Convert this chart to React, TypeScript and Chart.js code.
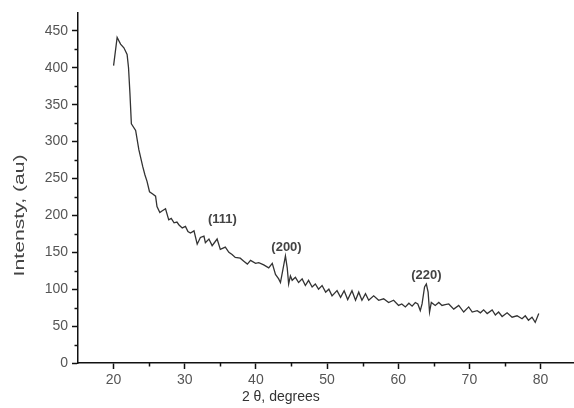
import React, { useEffect, useRef } from 'react';
import { Chart, registerables } from 'chart.js';

Chart.register(...registerables);

const twoTheta = [
  20.0, 20.5, 20.98, 21.45, 21.9, 22.1, 22.3, 22.5, 23.1, 23.55, 24.1, 24.4, 24.7, 25.05, 25.5, 25.9,
  26.1, 26.5, 26.8, 27.3, 27.75, 28.1, 28.5, 28.9, 29.2, 29.65, 30.1, 30.45, 30.8, 31.3, 31.75,
  32.2, 32.7, 32.9, 33.4, 33.85, 34.55, 35.0, 35.7, 36.2, 36.65, 37.1, 37.8, 38.3, 38.8, 39.25,
  39.95, 40.4, 41.1, 41.8, 42.3, 42.75, 43.2, 43.45, 43.8, 44.15, 44.4, 44.6, 44.85, 45.1, 45.55,
  46.0, 46.5, 46.95, 47.4, 47.9, 48.35, 48.8, 49.3, 49.8, 50.25, 50.7, 51.4, 51.9, 52.4, 52.9,
  53.5, 54.0, 54.45, 54.9, 55.4, 55.85, 56.55, 57.25, 57.95, 58.65, 59.35, 60.05, 60.5, 61.0,
  61.5, 61.95, 62.4, 62.75, 63.1, 63.35, 63.7, 63.95, 64.2, 64.4, 64.65, 65.2, 65.7, 66.15, 66.6,
  67.1, 67.8, 68.5, 69.2, 69.9, 70.4, 71.1, 71.55, 72.0, 72.5, 73.2, 73.65, 74.1, 74.6, 75.3,
  76.0, 76.7, 77.4, 77.85, 78.3, 78.8, 79.25, 79.75
];

const intensity = [
  403, 441, 432, 427, 418, 400, 365, 324, 315, 289, 266, 255, 246, 232, 229, 226,
  212, 204, 206, 209, 194, 196, 190, 191, 187, 183, 185, 178, 176, 179, 161,
  170, 172, 163, 168, 159, 168, 154, 157, 150, 147, 143, 142, 138, 134, 139,
  135, 136, 133, 129, 135, 120, 114, 109, 127, 145, 129, 107, 118, 112, 116,
  109, 114, 105, 112, 103, 107, 100, 105, 96, 100, 91, 98, 89, 98, 86,
  98, 85, 96, 85, 94, 85, 91, 85, 87, 82, 85, 78, 80, 76,
  81, 77, 82, 80, 71, 80, 103, 107, 96, 69, 82, 78, 82, 78, 79,
  80, 73, 78, 69, 76, 69, 71, 68, 72, 67, 72, 65, 69, 63, 68,
  62, 64, 60, 64, 58, 62, 55, 67
];

const xTicks = [20, 30, 40, 50, 60, 70, 80];
const yTicks = [0, 50, 100, 150, 200, 250, 300, 350, 400, 450];
const xMinorTicks = [25, 35, 45, 55, 65, 75];
const yMinorTicks = [25, 75, 125, 175, 225, 275, 325, 375, 425];

const peakLabels = ['(111)', '(200)', '(220)'];
const peakX = [35.3, 44.3, 63.95];
const peakY = [195, 156, 119];

const xTitle = '2 θ, degrees';
const yTitle = 'Intensty, (au)';

const overlayPlugin = {
  id: 'overlay',
  afterDraw(chart: any) {
    const { ctx, chartArea } = chart;
    const x = chart.scales.x;
    const y = chart.scales.y;
    ctx.save();
    ctx.strokeStyle = '#111';
    ctx.lineWidth = 1.5;
    xMinorTicks.forEach((v) => {
      const px = Math.round(x.getPixelForValue(v)) + 0.5;
      ctx.beginPath();
      ctx.moveTo(px, chartArea.bottom);
      ctx.lineTo(px, chartArea.bottom + 3.5);
      ctx.stroke();
    });
    yMinorTicks.forEach((v) => {
      const py = Math.round(y.getPixelForValue(v)) + 0.5;
      ctx.beginPath();
      ctx.moveTo(chartArea.left, py);
      ctx.lineTo(chartArea.left - 3.5, py);
      ctx.stroke();
    });

    ctx.font = 'bold 13px "Liberation Sans", Arial, sans-serif';
    ctx.fillStyle = '#444';
    ctx.textAlign = 'center';
    ctx.textBaseline = 'middle';
    peakLabels.forEach((t, i) => {
      ctx.fillText(t, x.getPixelForValue(peakX[i]), y.getPixelForValue(peakY[i]));
    });

    ctx.font = '14px "Liberation Sans", Arial, sans-serif';
    ctx.fillStyle = '#333';
    ctx.fillText(xTitle, x.getPixelForValue(43.5), chartArea.bottom + 34);

    ctx.translate(20, y.getPixelForValue(200));
    ctx.rotate(-Math.PI / 2);
    ctx.font = '14px "Liberation Sans", Arial, sans-serif';
    ctx.fillStyle = '#444';
    const w = ctx.measureText(yTitle).width;
    ctx.scale(122 / w, 1);
    ctx.fillText(yTitle, 0, 0);
    ctx.restore();
  },
};

export default function App() {
  const canvasRef = useRef<HTMLCanvasElement | null>(null);

  useEffect(() => {
    document.body.style.margin = '0';
    const canvas = canvasRef.current;
    if (!canvas) return;
    const points = twoTheta.map((v, i) => ({ x: v, y: intensity[i] }));
    const chart = new Chart(canvas, {
      type: 'scatter',
      data: {
        datasets: [
          {
            data: points,
            showLine: true,
            borderColor: '#333',
            borderWidth: 1.3,
            pointRadius: 0,
            tension: 0,
          },
        ],
      },
      options: {
        responsive: false,
        animation: false,
        devicePixelRatio: 1,
        layout: { padding: { left: 0, right: 0, top: 9, bottom: 0 } },
        plugins: { legend: { display: false }, tooltip: { enabled: false } },
        scales: {
          x: {
            type: 'linear',
            min: 15,
            max: 84.7,
            afterBuildTicks: (s: any) => {
              s.ticks = xTicks.map((v) => ({ value: v }));
            },
            afterFit: (s: any) => {
              s.height = 45;
            },
            grid: {
              drawOnChartArea: false,
              drawTicks: true,
              tickLength: 6,
              tickWidth: 1.5,
              color: '#111',
            },
            border: { display: true, color: '#111', width: 1.5 },
            ticks: {
              font: { family: '"Liberation Sans", Arial, sans-serif', size: 14 },
              color: '#555',
              padding: 3,
              maxRotation: 0,
            },
          },
          y: {
            type: 'linear',
            min: 0,
            max: 475,
            afterBuildTicks: (s: any) => {
              s.ticks = yTicks.map((v) => ({ value: v }));
            },
            afterFit: (s: any) => {
              s.width = 78;
            },
            grid: {
              drawOnChartArea: false,
              drawTicks: true,
              tickLength: 6,
              tickWidth: 1.5,
              color: '#111',
            },
            border: { display: true, color: '#111', width: 1.5 },
            ticks: {
              font: { family: '"Liberation Sans", Arial, sans-serif', size: 14 },
              color: '#555',
              padding: 4,
            },
          },
        },
      },
      plugins: [overlayPlugin],
    });
    return () => chart.destroy();
  }, []);

  return <canvas ref={canvasRef} width={574} height={408} style={{ display: 'block' }} />;
}
